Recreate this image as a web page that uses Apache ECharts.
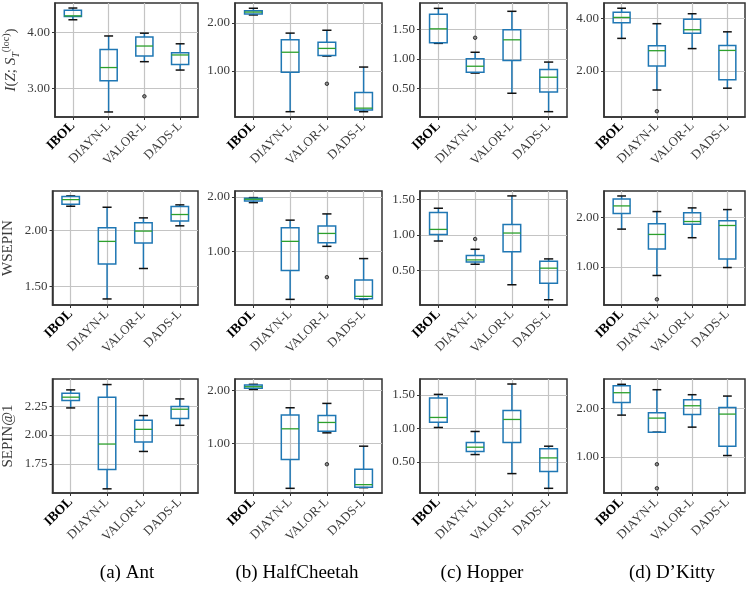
<!DOCTYPE html>
<html>
<head>
<meta charset="utf-8"/>
<title>IBOL boxplots</title>
<style>
    html, body { margin: 0; padding: 0; background: #fff; }
    #main { width: 747px; height: 590px; }
</style>
</head>
<body>
<div id="main"></div>
<script src="https://cdn.jsdelivr.net/npm/echarts@6/dist/echarts.min.js"></script>
<script>
    var methods = ['IBOL', 'DIAYN-L', 'VALOR-L', 'DADS-L'];
    var envNames = ['(a) Ant', '(b) HalfCheetah', '(c) Hopper', '(d) D\u2019Kitty'];

    // each box: [low whisker, q1, median, q3, high whisker]
    var locAnt = [[4.23, 4.29, 4.30, 4.40, 4.44], [2.58, 3.14, 3.375, 3.70, 3.94], [3.48, 3.58, 3.76, 3.92, 3.99], [3.33, 3.43, 3.60, 3.64, 3.80]];
    var locHC = [[2.17, 2.19, 2.23, 2.26, 2.31], [0.146, 0.97, 1.39, 1.65, 1.79], [1.31, 1.32, 1.47, 1.60, 1.85], [0.146, 0.18, 0.22, 0.55, 1.08]];
    var locHop = [[1.26, 1.27, 1.505, 1.75, 1.85], [0.76, 0.775, 0.875, 1.00, 1.11], [0.42, 0.97, 1.32, 1.49, 1.80], [0.11, 0.44, 0.69, 0.82, 0.945]];
    var locDK = [[3.24, 3.84, 4.04, 4.24, 4.39], [1.27, 2.19, 2.77, 2.96, 3.80], [2.85, 3.44, 3.57, 3.97, 4.18], [1.34, 1.66, 2.78, 2.97, 3.49]];

    var wsAnt = [[2.216, 2.234, 2.275, 2.302, 2.308], [1.388, 1.70, 1.902, 2.024, 2.207], [1.66, 1.888, 1.994, 2.068, 2.112], [2.041, 2.083, 2.142, 2.213, 2.228]];
    var wsHC = [[1.897, 1.927, 1.958, 1.976, 1.988], [0.127, 0.655, 1.188, 1.436, 1.576], [1.097, 1.164, 1.333, 1.467, 1.69], [0.127, 0.14, 0.182, 0.479, 0.873]];
    var wsHop = [[0.914, 1.007, 1.077, 1.314, 1.374], [0.588, 0.621, 0.649, 0.709, 0.798], [0.30, 0.765, 1.026, 1.147, 1.547], [0.09, 0.323, 0.533, 0.63, 0.663]];
    var wsDK = [[1.76, 2.073, 2.227, 2.367, 2.427], [0.827, 1.36, 1.653, 1.867, 2.113], [1.587, 1.86, 1.913, 2.087, 2.187], [0.987, 1.16, 1.833, 1.927, 2.153]];

    var sepAnt = [[2.234, 2.298, 2.327, 2.361, 2.39], [1.535, 1.702, 1.922, 2.327, 2.436], [1.858, 1.939, 2.049, 2.127, 2.168], [2.084, 2.142, 2.223, 2.246, 2.312]];
    var sepHC = [[2.025, 2.045, 2.076, 2.108, 2.121], [0.14, 0.688, 1.274, 1.535, 1.675], [1.197, 1.229, 1.395, 1.529, 1.758], [0.153, 0.159, 0.21, 0.503, 0.943]];
    var sepHop = [[1.015, 1.095, 1.165, 1.455, 1.51], [0.61, 0.655, 0.72, 0.79, 0.955], [0.325, 0.79, 1.135, 1.27, 1.665], [0.105, 0.355, 0.56, 0.695, 0.735]];
    var sepDK = [[1.862, 2.124, 2.324, 2.469, 2.497], [1.51, 1.51, 1.80, 1.91, 2.386], [1.614, 1.876, 2.055, 2.179, 2.283], [1.028, 1.221, 1.883, 2.021, 2.255]];

    // outliers: [method index, value]
    var locAntOut = [[2, 2.86]];
    var locHCOut = [[2, 0.73]];
    var locHopOut = [[1, 1.355]];
    var locDKOut = [[1, 0.46]];
    var wsAntOut = [];
    var wsHCOut = [[2, 0.533]];
    var wsHopOut = [[1, 0.942]];
    var wsDKOut = [[1, 0.347]];
    var sepAntOut = [];
    var sepHCOut = [[2, 0.599]];
    var sepHopOut = [];
    var sepDKOut = [[1, 0.848], [1, 0.352]];

    // y ranges and tick labels
    var locRange = [[2.49, 4.53], [0.035, 2.42], [0.02, 1.94], [0.24, 4.59]];
    var wsRange = [[1.334, 2.352], [0.024, 2.109], [0.016, 1.616], [0.233, 2.527]];
    var sepRange = [[1.499, 2.484], [0.051, 2.223], [0.035, 1.74], [0.255, 2.607]];
    var locTicks = [[3, 4], [1, 2], [0.5, 1, 1.5], [2, 4]];
    var wsTicks = [[1.5, 2], [1, 2], [0.5, 1, 1.5], [1, 2]];
    var sepTicks = [[1.75, 2, 2.25], [1, 2], [0.5, 1, 1.5], [1, 2]];

    var rows = [
        {boxes: [locAnt, locHC, locHop, locDK], outs: [locAntOut, locHCOut, locHopOut, locDKOut], range: locRange, ticks: locTicks,
            name: '{i|I}{n|(}{i|Z}{n|; }{i|S}{sub|T}{sup|(loc)}{n|)}'},
        {boxes: [wsAnt, wsHC, wsHop, wsDK], outs: [wsAntOut, wsHCOut, wsHopOut, wsDKOut], range: wsRange, ticks: wsTicks, name: '{n|WSEPIN}'},
        {boxes: [sepAnt, sepHC, sepHop, sepDK], outs: [sepAntOut, sepHCOut, sepHopOut, sepDKOut], range: sepRange, ticks: sepTicks, name: '{n|SEPIN@1}'}
    ];

    var colLeft = [52, 235, 420, 604];
    var colWidth = [146, 147, 147, 141];
    var rowTop = [3, 191, 379];
    var panelH = 114;
    var captionX = [127, 297, 482, 672];

    var FONT = 'Liberation Serif';

    function renderBox(params, api) {
        var i = api.value(0);
        var lo = api.coord([i, api.value(1)]);
        var q1 = api.coord([i, api.value(2)]);
        var md = api.coord([i, api.value(3)]);
        var q3 = api.coord([i, api.value(4)]);
        var hi = api.coord([i, api.value(5)]);
        var band = api.size([1, 0])[0];
        var bw = band * 0.48, cw = band * 0.25;
        var x = lo[0];
        var blue = {stroke: '#1f77b4', lineWidth: 1.5};
        var black = {stroke: '#111', lineWidth: 1.5};
        return {
            type: 'group',
            children: [
                {type: 'line', shape: {x1: x, y1: hi[1], x2: x, y2: q3[1]}, style: blue},
                {type: 'line', shape: {x1: x, y1: q1[1], x2: x, y2: lo[1]}, style: blue},
                {type: 'line', shape: {x1: x - cw / 2, y1: hi[1], x2: x + cw / 2, y2: hi[1]}, style: black},
                {type: 'line', shape: {x1: x - cw / 2, y1: lo[1], x2: x + cw / 2, y2: lo[1]}, style: black},
                {type: 'rect', shape: {x: x - bw / 2, y: q3[1], width: bw, height: q1[1] - q3[1]},
                    style: {stroke: '#1f77b4', lineWidth: 1.5, fill: 'rgba(0,0,0,0)'}},
                {type: 'line', shape: {x1: x - bw / 2, y1: md[1], x2: x + bw / 2, y2: md[1]},
                    style: {stroke: '#2ca02c', lineWidth: 1.3}}
            ]
        };
    }

    var grids = [], xAxes = [], yAxes = [], series = [], graphics = [];

    rows.forEach(function (row, r) {
        for (var c = 0; c < 4; c++) {
            var k = grids.length;
            grids.push({
                left: colLeft[c], top: rowTop[r], width: colWidth[c], height: panelH,
                show: true, borderColor: '#333', borderWidth: 1.5, backgroundColor: 'transparent'
            });
            xAxes.push({
                type: 'category', gridIndex: k, data: methods,
                axisLine: {lineStyle: {color: '#333', width: 1.5}},
                axisTick: {show: true, alignWithLabel: true, length: 3, lineStyle: {color: '#333'}},
                splitLine: {show: true, alignWithLabel: true, lineStyle: {color: '#c4c4c4', width: 1.2}},
                axisLabel: {
                    rotate: 45, margin: 7, interval: 0,
                    formatter: function (v) { return v === 'IBOL' ? '{b|' + v + '}' : '{n|' + v + '}'; },
                    rich: {
                        b: {fontFamily: FONT, fontSize: 13.5, fontWeight: 'bold', color: '#000'},
                        n: {fontFamily: FONT, fontSize: 13, color: '#3a3a3a'}
                    }
                }
            });
            var ticks = row.ticks[c];
            var y = {
                type: 'value', gridIndex: k,
                min: row.range[c][0], max: row.range[c][1],
                axisLine: {show: true, lineStyle: {color: '#333', width: 1.5}},
                axisTick: {show: true, length: 3, customValues: ticks, lineStyle: {color: '#333'}},
                splitLine: {show: true, lineStyle: {color: '#c4c4c4', width: 1.2}},
                axisLabel: {
                    customValues: ticks, margin: 5,
                    fontFamily: FONT, fontSize: 13, color: '#3a3a3a',
                    formatter: function (v) { return v.toFixed(2); }
                }
            };
            if (c === 0) {
                y.name = row.name;
                y.nameLocation = 'middle';
                y.nameGap = 34;
                y.nameTextStyle = {
                    rich: {
                        i: {fontFamily: FONT, fontSize: 15, fontStyle: 'italic', color: '#3a3a3a', lineHeight: 20},
                        n: {fontFamily: FONT, fontSize: 15, color: '#3a3a3a', lineHeight: 20},
                        sub: {fontFamily: FONT, fontSize: 10, fontStyle: 'italic', color: '#3a3a3a', verticalAlign: 'bottom', lineHeight: 20},
                        sup: {fontFamily: FONT, fontSize: 10, color: '#3a3a3a', verticalAlign: 'top', lineHeight: 20}
                    }
                };
            }
            yAxes.push(y);

            series.push({
                type: 'custom', xAxisIndex: k, yAxisIndex: k,
                renderItem: renderBox,
                encode: {x: 0, y: [1, 2, 3, 4, 5]},
                data: row.boxes[c].map(function (b, i) { return [i].concat(b); }),
                silent: true
            });
            series.push({
                type: 'scatter', xAxisIndex: k, yAxisIndex: k,
                symbol: 'circle', symbolSize: 3.5,
                itemStyle: {color: '#777', borderColor: '#111', borderWidth: 1},
                data: row.outs[c],
                silent: true
            });
        }
    });

    envNames.forEach(function (t, c) {
        graphics.push({
            type: 'text', x: captionX[c], y: 573,
            style: {text: t, fontFamily: FONT, fontSize: 19, fill: '#000', align: 'center', verticalAlign: 'middle'}
        });
    });

    var chart = echarts.init(document.getElementById('main'));
    chart.setOption({
        animation: false,
        backgroundColor: '#fff',
        grid: grids,
        xAxis: xAxes,
        yAxis: yAxes,
        series: series,
        graphic: graphics
    });
</script>
</body>
</html>
